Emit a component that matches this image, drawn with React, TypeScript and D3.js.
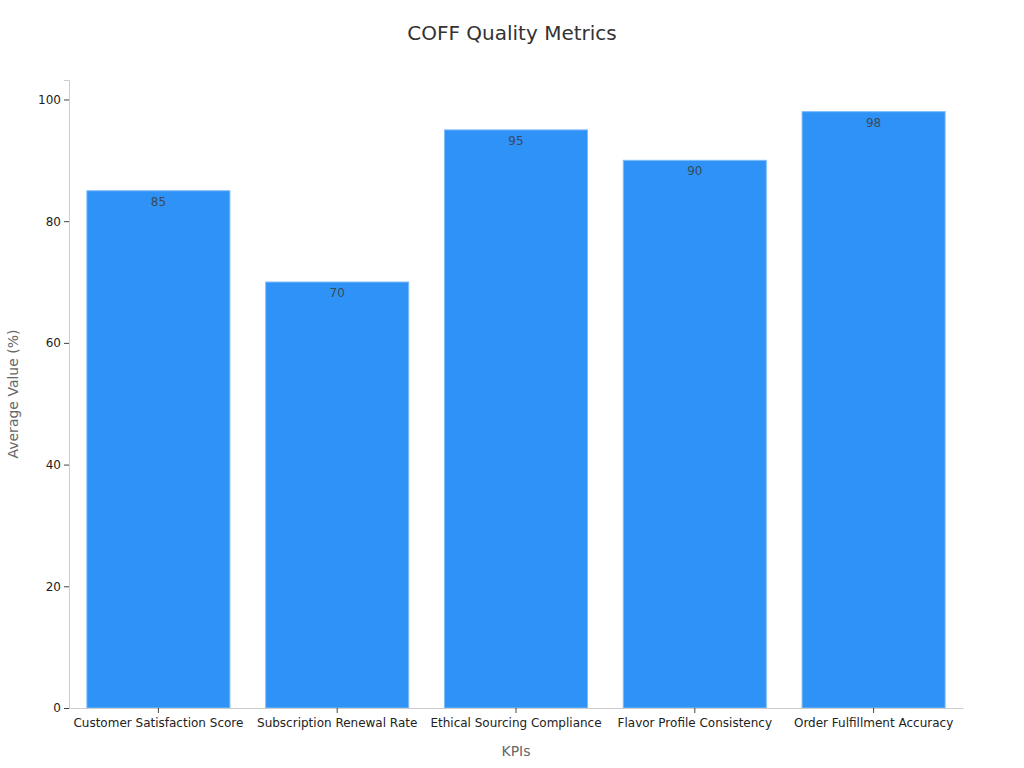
import React from "react";
import * as d3 from "d3";

const categories = [
  "Customer Satisfaction Score",
  "Subscription Renewal Rate",
  "Ethical Sourcing Compliance",
  "Flavor Profile Consistency",
  "Order Fulfillment Accuracy",
];
const values = [85, 70, 95, 90, 98];
const yTicks = [0, 20, 40, 60, 80, 100];

const width = 1024;
const height = 768;
const margin = { top: 80, right: 61, bottom: 60, left: 69 };

const App = () => {
  const svgRef = React.useRef(null);

  React.useEffect(() => {
    const innerW = width - margin.left - margin.right;
    const innerH = height - margin.top - margin.bottom;

    const xScale = d3.scaleBand()
      .domain(categories)
      .range([0, innerW])
      .paddingInner(0.2)
      .paddingOuter(0.1);
    const yScale = d3.scaleLinear()
      .domain([0, 103.2])
      .range([innerH, 0]);

    const svgEl = d3.select(svgRef.current);
    svgEl.selectAll("*").remove();
    svgEl.append("rect").attr("width", width).attr("height", height).attr("fill", "#fff");

    svgEl.append("text")
      .attr("x", width / 2)
      .attr("y", 40)
      .attr("text-anchor", "middle")
      .attr("font-size", 20)
      .attr("fill", "#333")
      .text("COFF Quality Metrics");

    const svg = svgEl.append("g")
      .attr("transform", `translate(${margin.left},${margin.top})`);

    // bars
    svg.selectAll("rect.bar")
      .data(values)
      .enter()
      .append("rect")
      .attr("class", "bar")
      .attr("x", (d, i) => xScale(categories[i]))
      .attr("y", d => yScale(d))
      .attr("width", xScale.bandwidth())
      .attr("height", d => innerH - yScale(d))
      .attr("fill", "#2f92f7")
      .attr("stroke", "#7dbcf8")
      .attr("stroke-width", 1);

    svg.selectAll("text.val")
      .data(values)
      .enter()
      .append("text")
      .attr("class", "val")
      .attr("x", (d, i) => xScale(categories[i]) + xScale.bandwidth() / 2)
      .attr("y", d => yScale(d) + 15)
      .attr("text-anchor", "middle")
      .attr("font-size", 12)
      .attr("fill", "#3a4a5a")
      .text(d => d);

    // y axis
    const yAxis = d3.axisLeft(yScale).tickValues(yTicks).tickSize(5).tickPadding(3);
    const yG = svg.append("g").call(yAxis);
    yG.select(".domain").attr("stroke", "#ccc");
    yG.selectAll(".tick line").attr("stroke", "#444");
    yG.selectAll("text").attr("font-size", 12).attr("fill", "#222").attr("font-family", "DejaVu Sans");

    // x axis
    const xAxis = d3.axisBottom(xScale).tickSize(5).tickPadding(5).tickSizeOuter(0);
    const xG = svg.append("g").attr("transform", `translate(0,${innerH})`).call(xAxis);
    xG.select(".domain").attr("stroke", "#ccc");
    xG.selectAll(".tick line").attr("stroke", "#444");
    xG.selectAll("text").attr("font-size", 12).attr("fill", "#222").attr("font-family", "DejaVu Sans");

    svg.append("text")
      .attr("x", innerW / 2)
      .attr("y", innerH + 48)
      .attr("text-anchor", "middle")
      .attr("font-size", 14)
      .attr("fill", "#666")
      .text("KPIs");

    svg.append("text")
      .attr("transform", `translate(${-51},${innerH / 2}) rotate(-90)`)
      .attr("text-anchor", "middle")
      .attr("font-size", 14)
      .attr("fill", "#666")
      .text("Average Value (%)");
  }, []);

  return (
    <svg
      ref={svgRef}
      width={width}
      height={height}
      style={{ position: "absolute", left: 0, top: 0, fontFamily: "DejaVu Sans" }}
      fontFamily="DejaVu Sans"
    />
  );
};

export default App;
